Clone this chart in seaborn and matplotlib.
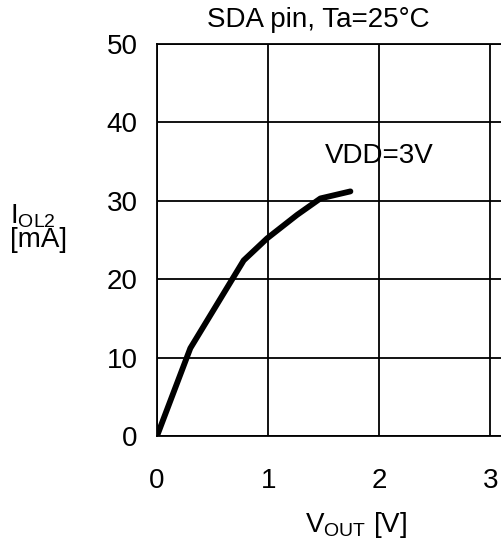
import matplotlib
matplotlib.use("Agg")
import matplotlib.pyplot as plt
import seaborn as sns
import pandas as pd

vout = [0.0, 0.30, 0.78, 0.99, 1.26, 1.47, 1.74]
iol = [0.0, 11.2, 22.4, 25.2, 28.2, 30.3, 31.2]
x_ticks = [0, 1, 2, 3]
y_ticks = [0, 10, 20, 30, 40, 50]

sns.set_style("white")
plt.rcParams['font.family'] = ['Liberation Sans', 'DejaVu Sans']
plt.rcParams['mathtext.fontset'] = 'custom'
plt.rcParams['mathtext.rm'] = 'Liberation Sans'
plt.rcParams['mathtext.it'] = 'Liberation Sans'
plt.rcParams['text.color'] = 'black'
plt.rcParams['xtick.color'] = 'black'
plt.rcParams['ytick.color'] = 'black'

FS = 20

fig = plt.figure(figsize=(5.01, 5.46), dpi=100)
ax = fig.add_axes([157/501, 110/546, 1 - 157/501 + 0.01, 392/546])

df = pd.DataFrame({"VOUT": vout, "IOL": iol})
sns.lineplot(data=df, x="VOUT", y="IOL", ax=ax, color="black", lw=4.2,
             solid_capstyle="round", solid_joinstyle="round", sort=False)

ax.set_xlim(0, 3.14)
ax.set_ylim(0, 50)
ax.set_xticks(x_ticks)
ax.set_yticks(y_ticks)
ax.set_xticklabels([str(v) for v in x_ticks])
ax.set_yticklabels([str(v) for v in y_ticks])
ax.grid(True, color="black", lw=1.3)
ax.tick_params(axis="x", length=0, pad=23, labelsize=FS)
ax.tick_params(axis="y", length=0, pad=14, labelsize=FS)
for s in ax.spines.values():
    s.set_color("black")
    s.set_linewidth(1.3)
ax.spines['right'].set_visible(False)
ax.set_xlabel("")
ax.set_ylabel("")

ax.text(2.0, 35.7, "VDD=3V", fontsize=FS, ha="center", va="center")
fig.text(318/501, 1 - 20/546, "SDA pin, Ta=25°C", fontsize=FS, ha="center", va="center")
fig.text(356/501, 1 - 525/546, r"V$_{\mathrm{OUT}}$ [V]", fontsize=FS, ha="center", va="center")
fig.text(10/501, 1 - 228/546, "I$_{\\mathrm{OL2}}$\n[mA]", fontsize=FS, ha="left", va="center",
         linespacing=0.85)

fig.savefig("out.png", dpi=100)
